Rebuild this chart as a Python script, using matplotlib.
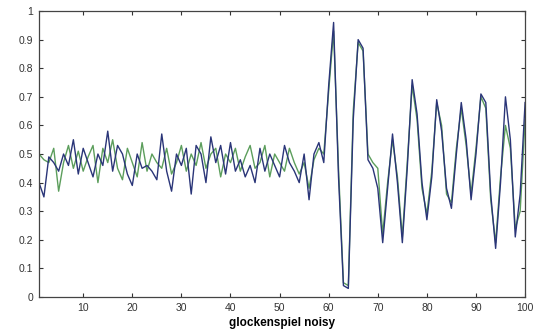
import numpy as np
import matplotlib.pyplot as plt

# sample index 1..100
x = np.arange(1, 101)

blue = [0.40, 0.35, 0.49, 0.47, 0.44, 0.50, 0.46, 0.55, 0.43, 0.52,
        0.47, 0.42, 0.50, 0.46, 0.58, 0.44, 0.53, 0.50, 0.43, 0.39,
        0.50, 0.45, 0.46, 0.44, 0.41, 0.57, 0.44, 0.37, 0.50, 0.46,
        0.52, 0.36, 0.53, 0.50, 0.40, 0.56, 0.47, 0.53, 0.43, 0.54,
        0.44, 0.48, 0.42, 0.46, 0.40, 0.52, 0.44, 0.50, 0.46, 0.42,
        0.53, 0.47, 0.44, 0.40, 0.50, 0.34, 0.50, 0.54, 0.47, 0.74,
        0.96, 0.42, 0.04, 0.03, 0.62, 0.90, 0.87, 0.48, 0.45, 0.38,
        0.19, 0.38, 0.57, 0.40, 0.19, 0.45, 0.76, 0.64, 0.40, 0.27,
        0.42, 0.69, 0.58, 0.38, 0.31, 0.50, 0.68, 0.55, 0.34, 0.50,
        0.71, 0.68, 0.36, 0.17, 0.40, 0.70, 0.55, 0.21, 0.36, 0.68]

green = [0.50, 0.48, 0.47, 0.52, 0.37, 0.47, 0.53, 0.45, 0.51, 0.44,
         0.49, 0.53, 0.40, 0.52, 0.47, 0.55, 0.45, 0.41, 0.52, 0.47,
         0.42, 0.54, 0.44, 0.50, 0.47, 0.45, 0.52, 0.43, 0.47, 0.53,
         0.44, 0.50, 0.46, 0.54, 0.45, 0.50, 0.52, 0.42, 0.50, 0.47,
         0.52, 0.44, 0.49, 0.53, 0.45, 0.47, 0.53, 0.42, 0.50, 0.47,
         0.44, 0.52, 0.47, 0.43, 0.47, 0.38, 0.48, 0.52, 0.50, 0.72,
         0.93, 0.45, 0.05, 0.04, 0.65, 0.89, 0.86, 0.50, 0.47, 0.45,
         0.22, 0.40, 0.55, 0.42, 0.21, 0.47, 0.74, 0.62, 0.38, 0.29,
         0.44, 0.68, 0.60, 0.36, 0.33, 0.52, 0.66, 0.53, 0.36, 0.52,
         0.70, 0.66, 0.34, 0.19, 0.42, 0.60, 0.52, 0.24, 0.30, 0.62]

xticks = list(range(10, 101, 10))
yticks = [0, 0.1, 0.2, 0.3, 0.4, 0.5, 0.6, 0.7, 0.8, 0.9, 1]
ylabels = ["0", "0.1", "0.2", "0.3", "0.4", "0.5", "0.6", "0.7", "0.8", "0.9", "1"]

plt.rcParams['font.family'] = ['Liberation Sans', 'DejaVu Sans']

fig = plt.figure(figsize=(5.38, 3.35), dpi=100)
ax = fig.add_axes([0.0725, 0.1134, 0.9035, 0.8537])

ax.plot(x, green, color='#5c9e5c', lw=1.0)
ax.plot(x, blue, color='#2a3578', lw=1.0)

ax.set_xlim(1, 100)
ax.set_ylim(0, 1)
ax.set_xticks(xticks)
ax.set_yticks(yticks)
ax.set_yticklabels(ylabels)
ax.tick_params(direction='in', top=True, right=True, labelsize=7.5,
               length=3, width=0.8, colors='#333333', pad=4)
for s in ax.spines.values():
    s.set_color('#444444')
    s.set_linewidth(0.9)

ax.set_xlabel("glockenspiel noisy", fontsize=8.5, fontweight='bold', labelpad=3)

fig.savefig("out.png", dpi=100)
